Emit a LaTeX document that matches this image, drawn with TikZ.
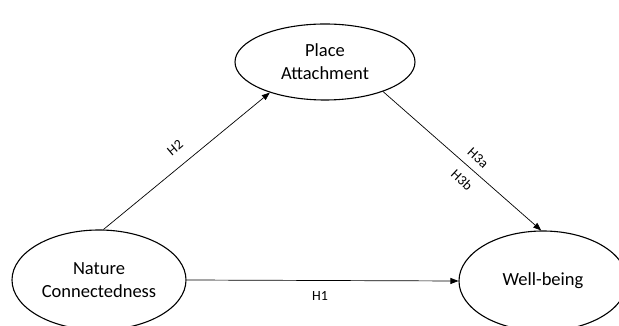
\documentclass[tikz,border=0pt]{standalone}
\usepackage{fontspec}
\setmainfont{Carlito}
\usetikzlibrary{shapes.geometric,arrows.meta}
\begin{document}
\begin{tikzpicture}[x=1pt,y=1pt,
  construct/.style={ellipse,draw,line width=1.1pt,inner sep=0pt,align=center,font=\fontsize{18.5}{23}\selectfont},
  path/.style={-{Triangle[length=8pt,width=6pt]},line width=0.7pt},
  hlabel/.style={font=\fontsize{14}{16}\selectfont,inner sep=1pt}]
\useasboundingbox (0,0) rectangle (619,326);
\fill[white] (0,0) rectangle (619,326);
\node[construct,minimum width=174pt,minimum height=100pt] (nc) at (99,46) {Nature\\Connectedness};
\node[construct,minimum width=168pt,minimum height=100pt] (wb) at (543,45) {Well-being};
\node[construct,minimum width=180pt,minimum height=76pt] (pa) at (325,264) {Place\\Attachment};
\draw[path] (nc.85) -- (pa.209);
\draw[path] (pa.333) -- (wb.92);
\draw[path] (nc.east) -- (wb.west);
\node[hlabel,rotate=40] (h2) at (175,178) {H2};
\node[hlabel,rotate=-43] (h3a) at (478,168) {H3a};
\node[hlabel,rotate=-43] (h3b) at (462,146) {H3b};
\node[hlabel] (h1) at (320,30) {H1};
\end{tikzpicture}
\end{document}
